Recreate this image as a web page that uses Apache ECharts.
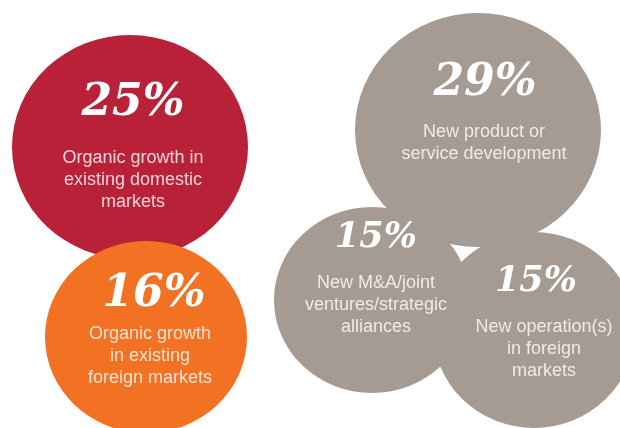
<!DOCTYPE html>
<html>
<head>
<meta charset="utf-8">
<script src="https://cdn.jsdelivr.net/npm/echarts@6/dist/echarts.min.js"></script>
<style>
  html, body { margin: 0; padding: 0; background: #fff; }
  #chart { width: 620px; height: 428px; }
</style>
</head>
<body>
<div id="chart"></div>
<script>
// data
const percents = [25, 16, 29, 15, 15]
const descriptions = [
  'Organic growth in\nexisting domestic\nmarkets',
  'Organic growth\nin existing\nforeign markets',
  'New product or\nservice development',
  'New M&A/joint\nventures/strategic\nalliances',
  'New operation(s)\nin foreign\nmarkets'
]

// layout (pixel space of the 620x428 picture)
const centerX = [130, 146, 478, 372, 534]
const centerY = [147, 337, 130, 300, 330]
const radiusX = [118, 101, 123, 98, 101]
const radiusY = [112, 96, 117, 93, 98]
const colors = ['#B82137', '#F27123', '#A69B92', '#A69B92', '#A69B92']
const pctOffset = [[3, -43], [8, -42], [7, -46], [4, -62], [2, -48]]
const pctSize = [44, 44, 44, 35, 35]
const descOffset = [[3, 33], [4, 19], [6, 13], [4, 5], [10, 19]]

const chart = echarts.init(document.getElementById('chart'))

const circleData = percents.map((p, i) => ({
  value: [centerX[i], centerY[i], p],
  symbolSize: [radiusX[i] * 2, radiusY[i] * 2],
  itemStyle: { color: colors[i], opacity: 1 },
  label: {
    show: true,
    formatter: p + '%',
    offset: pctOffset[i],
    fontSize: pctSize[i],
    fontFamily: 'DejaVu Serif',
    fontStyle: 'italic',
    fontWeight: 'bold',
    color: '#fff'
  }
}))

const descData = descriptions.map((d, i) => ({
  value: [centerX[i], centerY[i]],
  label: {
    show: true,
    formatter: d,
    offset: descOffset[i],
    fontSize: 18,
    lineHeight: 22,
    fontFamily: 'Liberation Sans',
    align: 'center',
    color: '#fff'
  }
}))

chart.setOption({
  animation: false,
  grid: { left: 0, right: 0, top: 0, bottom: 0 },
  xAxis: { type: 'value', min: 0, max: 620, show: false },
  yAxis: { type: 'value', min: 0, max: 428, inverse: true, show: false },
  series: [
    {
      type: 'scatter',
      data: circleData,
      label: { position: 'inside' },
      emphasis: { disabled: true }
    },
    {
      type: 'scatter',
      data: descData,
      symbolSize: 0,
      label: { position: 'inside' },
      z: 3,
      emphasis: { disabled: true }
    }
  ]
})
</script>
</body>
</html>
